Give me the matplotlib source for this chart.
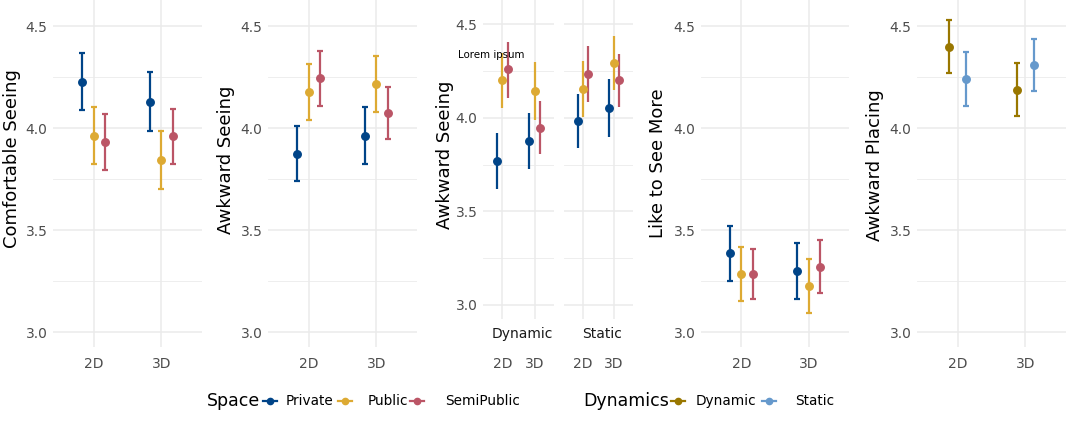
import numpy as np
import matplotlib
matplotlib.use("Agg")
import matplotlib.pyplot as plt
from matplotlib.lines import Line2D

W, H = 1066, 422

# ---------------- data ----------------
x_levels = ["2D", "3D"]
space_levels = ["Private", "Public", "SemiPublic"]
dyn_levels = ["Dynamic", "Static"]

# rows: 2D, 3D ; cols: Private, Public, SemiPublic
comf_mean = [[4.227, 3.961, 3.932], [4.128, 3.842, 3.960]]
comf_lo = [[4.090, 3.823, 3.795], [3.984, 3.700, 3.824]]
comf_hi = [[4.369, 4.102, 4.071], [4.273, 3.984, 4.095]]

awk_mean = [[3.875, 4.175, 4.245], [3.963, 4.216, 4.072]]
awk_lo = [[3.738, 4.040, 4.110], [3.823, 4.079, 3.948]]
awk_hi = [[4.010, 4.316, 4.379], [4.102, 4.353, 4.200]]

# Awkward Seeing split by dynamics facet
awk_dyn_mean = [[3.769, 4.199, 4.258], [3.874, 4.141, 3.947]]
awk_dyn_lo = [[3.621, 4.053, 4.107], [3.724, 3.988, 3.806]]
awk_dyn_hi = [[3.916, 4.345, 4.404], [4.023, 4.297, 4.091]]
awk_sta_mean = [[3.980, 4.155, 4.233], [4.052, 4.294, 4.199]]
awk_sta_lo = [[3.840, 4.004, 4.085], [3.899, 4.148, 4.059]]
awk_sta_hi = [[4.125, 4.302, 4.384], [4.205, 4.438, 4.338]]

more_mean = [[3.387, 3.286, 3.284], [3.297, 3.224, 3.318]]
more_lo = [[3.251, 3.153, 3.162], [3.163, 3.091, 3.189]]
more_hi = [[3.522, 3.418, 3.406], [3.434, 3.359, 3.451]]

# cols: Dynamic, Static
place_mean = [[4.399, 4.242], [4.187, 4.311]]
place_lo = [[4.268, 4.110], [4.059, 4.183]]
place_hi = [[4.528, 4.373], [4.317, 4.438]]

SPACE_COLORS = ["#004488", "#DDAA33", "#BB5566"]
DYN_COLORS = ["#997700", "#6699CC"]
GRID = "#EBEBEB"
TICK = "#4D4D4D"

plt.rcParams.update({"font.family": "DejaVu Sans"})
fig = plt.figure(figsize=(W / 100, H / 100), dpi=100)
fig.patch.set_facecolor("white")


def px_axes(x0, x1, y0, y1):
    return fig.add_axes([x0 / W, 1 - y1 / H, (x1 - x0) / W, (y1 - y0) / H])


def ftext(x, y, s, **kw):
    fig.text(x / W, 1 - y / H, s, **kw)


def style(ax, ylim, show_y=True, xpad=7):
    ax.set_xlim(0.4, 2.6)
    ax.set_ylim(*ylim)
    ax.set_xticks([1, 2])
    ax.set_xticklabels(x_levels)
    ax.set_yticks([3.0, 3.5, 4.0, 4.5])
    ax.set_yticks([3.25, 3.75, 4.25], minor=True)
    ax.set_yticklabels(["3.0", "3.5", "4.0", "4.5"] if show_y else [])
    ax.tick_params(which="both", length=0)
    ax.tick_params(axis="y", pad=4, labelsize=10, colors=TICK)
    ax.tick_params(axis="x", pad=xpad, labelsize=10, colors=TICK)
    ax.grid(which="major", axis="both", color=GRID, linewidth=1.1)
    ax.grid(which="minor", axis="y", color=GRID, linewidth=0.6)
    ax.set_axisbelow(True)
    for s in ax.spines.values():
        s.set_visible(False)


def draw_groups(ax, mean, lo, hi, colors, cap=2.2):
    mean, lo, hi = np.array(mean), np.array(lo), np.array(hi)
    n = mean.shape[1]
    offs = (np.arange(n) - (n - 1) / 2) * (0.5 / n)
    xs = np.arange(1, mean.shape[0] + 1)
    for j in range(n):
        ax.errorbar(xs + offs[j], mean[:, j], yerr=[mean[:, j] - lo[:, j], hi[:, j] - mean[:, j]],
                    fmt="o", color=colors[j], markersize=5.4, elinewidth=1.6,
                    capsize=cap, capthick=1.6, linestyle="none", zorder=3)


YL_A = (3.0 - 15 / 204, 4.5 + 26 / 204)
YL_B = (3.0 - 14 / 187.3, 4.5 + 24 / 187.3)

# ---------------- panel 1 ----------------
ax1 = px_axes(53, 202, 0, 347)
style(ax1, YL_A)
draw_groups(ax1, comf_mean, comf_lo, comf_hi, SPACE_COLORS)
ftext(12, 159, "Comfortable Seeing", rotation=90, ha="center", va="center", fontsize=13)

# ---------------- panel 2 ----------------
ax2 = px_axes(268, 417, 0, 347)
style(ax2, YL_A)
draw_groups(ax2, awk_mean, awk_lo, awk_hi, SPACE_COLORS)
ftext(226, 160, "Awkward Seeing", rotation=90, ha="center", va="center", fontsize=13)

# ---------------- panel 3 (faceted by dynamics) ----------------
ax3a = px_axes(483, 554, 0, 319)
ax3b = px_axes(564, 633, 0, 319)
style(ax3a, YL_B, xpad=27)
style(ax3b, YL_B, show_y=False, xpad=27)
draw_groups(ax3a, awk_dyn_mean, awk_dyn_lo, awk_dyn_hi, SPACE_COLORS, cap=0)
draw_groups(ax3b, awk_sta_mean, awk_sta_lo, awk_sta_hi, SPACE_COLORS, cap=0)
for ax, lab in zip([ax3a, ax3b], dyn_levels):
    ax.text(0.55, -0.047, lab, transform=ax.transAxes, ha="center", va="center",
            fontsize=10, color="#1A1A1A")
ftext(445, 155, "Awkward Seeing", rotation=90, ha="center", va="center", fontsize=13)
note_x, note_y = 0.66, 4.335
ax3a.text(note_x, note_y, "Lorem ipsum", ha="center", va="center", fontsize=7.4,
          color="black", clip_on=False, zorder=5)

# ---------------- panel 4 ----------------
ax4 = px_axes(701, 849, 0, 347)
style(ax4, YL_A)
draw_groups(ax4, more_mean, more_lo, more_hi, SPACE_COLORS)
ftext(658, 163, "Like to See More", rotation=90, ha="center", va="center", fontsize=13)

# ---------------- panel 5 ----------------
ax5 = px_axes(917, 1066, 0, 347)
style(ax5, YL_A)
draw_groups(ax5, place_mean, place_lo, place_hi, DYN_COLORS)
ftext(875, 165, "Awkward Placing", rotation=90, ha="center", va="center", fontsize=13)

# ---------------- legends ----------------
LY = 401


def key(xc, color):
    fig.add_artist(Line2D([(xc - 7) / W, (xc + 7) / W], [1 - LY / H] * 2,
                          transform=fig.transFigure, color=color, linewidth=1.6))
    fig.add_artist(Line2D([xc / W], [1 - LY / H], transform=fig.transFigure,
                          marker="o", markersize=4.5, color=color, linestyle="none"))


ftext(207, LY, "Space", ha="left", va="center", fontsize=12.5)
for xc, xt, lab, c in zip([270, 345, 417], [286, 368, 445], space_levels, SPACE_COLORS):
    key(xc, c)
    ftext(xt, LY, lab, ha="left", va="center", fontsize=9.8)

ftext(583, LY, "Dynamics", ha="left", va="center", fontsize=12.5)
for xc, xt, lab, c in zip([678, 769], [696, 795], dyn_levels, DYN_COLORS):
    key(xc, c)
    ftext(xt, LY, lab, ha="left", va="center", fontsize=9.8)

fig.savefig("out.png", dpi=100, facecolor="white")
